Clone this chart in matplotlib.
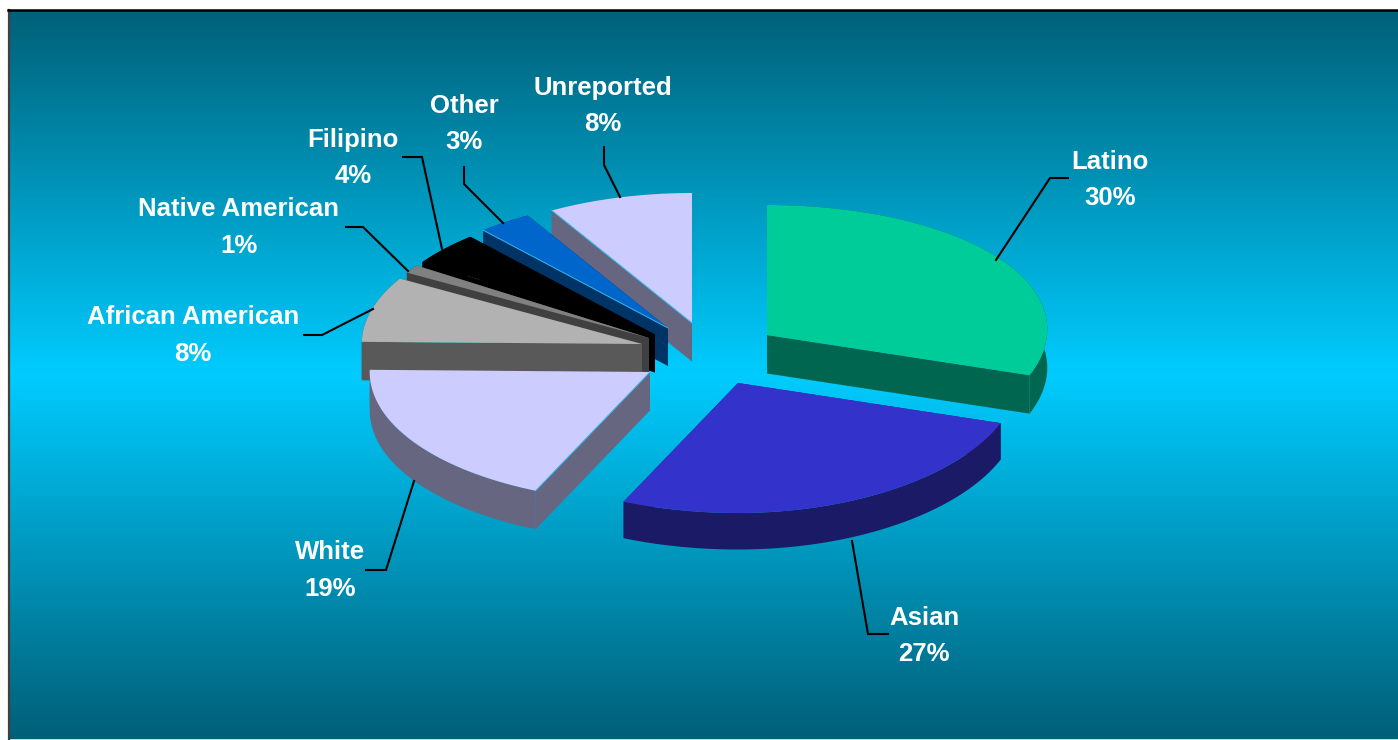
import numpy as np
import matplotlib
matplotlib.use("Agg")
import matplotlib.pyplot as plt
from matplotlib.colors import LinearSegmentedColormap
from matplotlib.patches import Polygon

# Share of each group, in percent, clockwise from twelve o'clock
categories = ["Latino", "Asian", "White", "African American",
              "Native American", "Filipino", "Other", "Unreported"]
values = [30, 27, 19, 8, 1, 4, 3, 8]

# Styling for each slice
top_colors = ["#00CC99", "#3333CC", "#CCCCFF", "#B2B2B2",
              "#808080", "#000000", "#0066CC", "#CCCCFF"]
side_colors = ["#006650", "#1A1A66", "#666680", "#595959",
               "#404040", "#000000", "#003366", "#666680"]
apexes = [(767, 335), (738, 383), (650, 372), (642, 344),
          (649, 338), (655, 334.5), (668, 328), (692, 323)]
depths = [38.5, 36.5, 38.5, 38.5, 38.5, 38, 38, 38.5]
paint_order = [7, 6, 5, 4, 3, 2, 0, 1]

# Label anchors and leader line paths, in figure pixels
label_xy = [(1110, 180), (924, 636), (330, 570.5), (193, 335.5),
            (239, 227.5), (353, 158), (464, 124), (603, 106)]
leaders = [
    [(1068, 178), (1050, 178), (996, 260)],
    [(852, 541), (868, 634), (888, 634)],
    [(414, 481), (386, 570), (366, 570)],
    [(304, 335), (322, 335), (373, 309)],
    [(346, 227), (363, 227), (408, 271)],
    [(403, 157), (422, 157), (442, 249)],
    [(464, 167), (464, 184), (503, 223)],
    [(604, 147), (604, 165), (620, 197)],
]

RX, RY = 280.0, 130.0
plt.rcParams["font.family"] = ["Liberation Sans", "DejaVu Sans"]

fig = plt.figure(figsize=(13.98, 7.40), dpi=100, facecolor="white")
ax = fig.add_axes([0, 0, 1, 1])
ax.set_xlim(0, 1398)
ax.set_ylim(740, 0)
ax.axis("off")

# Panel background: dark teal at the edges, bright cyan through the middle
cmap = LinearSegmentedColormap.from_list(
    "panel", ["#006078", "#00CCFF", "#005F78"])
ax.imshow(np.linspace(0, 1, 512)[:, None], cmap=cmap, aspect="auto",
          extent=(9, 1398, 739, 10), zorder=0)
ax.set_xlim(0, 1398)
ax.set_ylim(740, 0)
ax.plot([8.5, 8.5], [10, 740], color="#404040", lw=1.6, zorder=1)
ax.plot([8, 1398], [10, 10], color="#000000", lw=1.8, zorder=1)
ax.plot([9, 1398], [739.5, 739.5], color="#003040", lw=1.0, zorder=1)


def rim(apex, theta):
    """Project rim angles (clockwise from the top) onto the tilted disc."""
    s, c = np.sin(theta), np.cos(theta)
    x = apex[0] + RX * s * (1 + 0.045 * c)
    lift = np.where(s < 0, 6.0 * s ** 2, 0.0)
    y = apex[1] - RY * c + lift
    return x, y


edges = np.radians(np.concatenate([[0], np.cumsum(values)]) * 3.6)
z = 2
for i in paint_order:
    apex = apexes[i]
    depth = depths[i]
    theta = np.linspace(edges[i], edges[i + 1], 80)
    x, y = rim(apex, theta)

    # Walls first, then the lid hides whichever ones face away
    for k in (0, -1):
        wall = [apex, (x[k], y[k]), (x[k], y[k] + depth), (apex[0], apex[1] + depth)]
        ax.add_patch(Polygon(wall, closed=True, fc=side_colors[i], ec="none", zorder=z))
    outer = np.column_stack([np.r_[x, x[::-1]], np.r_[y, y[::-1] + depth]])
    ax.add_patch(Polygon(outer, closed=True, fc=side_colors[i], ec="none", zorder=z))
    lid = np.column_stack([np.r_[apex[0], x], np.r_[apex[1], y]])
    ax.add_patch(Polygon(lid, closed=True, fc=top_colors[i], ec="none", zorder=z + 0.5))
    if categories[i] in ("Other", "Unreported", "White"):
        ax.plot([apex[0], x[0]], [apex[1], y[0]], color="#33BBEE", lw=0.7, zorder=z + 0.6)
    z += 1

for path in leaders:
    xs, ys = zip(*path)
    ax.plot(xs, ys, color="black", lw=1.5, solid_joinstyle="miter", zorder=20)

for name, value, (tx, ty) in zip(categories, values, label_xy):
    ax.text(tx, ty, f"{name}\n{value}%", color="white", fontsize=18.5,
            fontweight="bold", ha="center", va="center", ma="center",
            linespacing=1.68, zorder=21)

fig.savefig("out.png", dpi=100, facecolor="white")
